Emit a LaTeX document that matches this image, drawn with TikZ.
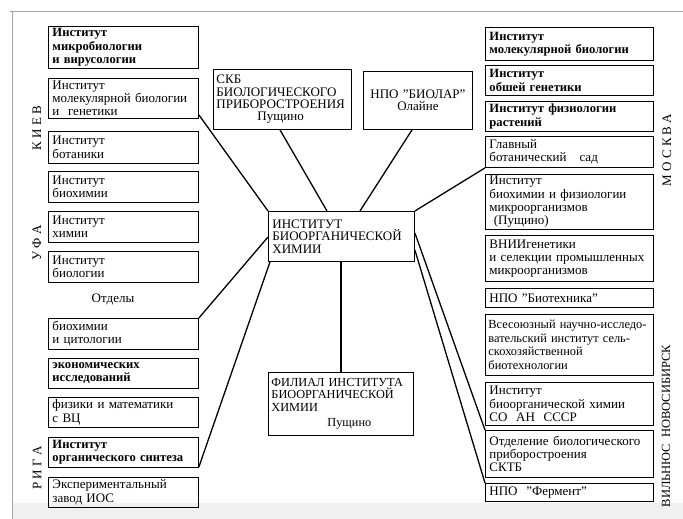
\documentclass[tikz,border=0pt]{standalone}
\usepackage{fontspec}
\setmainfont{Liberation Serif}
\newcommand\bxfont{\fontsize{13}{13.3}\selectfont}
\newcommand\capfont{\fontsize{13}{12.4}\selectfont}
\begin{document}
\begin{tikzpicture}[x=1pt,y=-1pt,
  box/.style={draw, line width=0.9pt, anchor=north west, inner xsep=4pt, inner ysep=0pt, font=\bxfont, align=left},
  lbox/.style={box, text width=142pt},
  rbox/.style={box, text width=160pt},
  mbox/.style={font=\fontsize{12.6}{13.3}\selectfont\bfseries},
  cbox/.style={box, font=\capfont},
  link/.style={line width=1.3pt},
  side/.style={rotate=90, font=\fontsize{13}{13}\selectfont}]
\useasboundingbox (0,0) rectangle (683,519);
\fill[gray!12] (12,503) rectangle (683,519);
\draw[gray!70, line width=1pt] (10,12) -- (683,12);
\draw[gray!70, line width=1pt] (12,12) -- (12,519);
% left column
\node[lbox, mbox, minimum height=42pt] (L1) at (48,26) {Институт\\микробиологии\\и вирусологии};
\node[lbox, minimum height=40pt] (L2) at (48,78) {Институт\\молекулярной биологии\\и\ \ генетики};
\node[lbox, minimum height=32pt] (L3) at (48,131) {Институт\\ботаники};
\node[lbox, minimum height=31pt] (L4) at (48,171) {Институт\\биохимии};
\node[lbox, minimum height=31pt] (L5) at (48,211) {Институт\\химии};
\node[lbox, minimum height=31pt] (L6) at (48,251) {Институт\\биологии};
\node[font=\bxfont] (otd) at (113,299) {Отделы};
\node[lbox, minimum height=31pt] (L7) at (48,318) {биохимии\\и цитологии};
\node[lbox, mbox, minimum height=30pt] (L8) at (48,358) {экономических\\исследований};
\node[lbox, minimum height=30pt] (L9) at (48,397) {физики и математики\\с ВЦ};
\node[lbox, mbox, minimum height=30pt] (L10) at (48,437) {Институт\\органического синтеза};
\node[lbox, minimum height=30pt] (L11) at (48,477) {Экспериментальный\\завод ИОС};
% right column
\node[rbox, mbox, minimum height=33pt] (R1) at (485,27) {Институт\\молекулярной биологии};
\node[rbox, mbox, minimum height=30pt] (R2) at (485,65) {Институт\\обшей генетики};
\node[rbox, mbox, minimum height=30pt] (R3) at (485,101) {Институт физиологии\\растений};
\node[rbox, minimum height=31pt] (R4) at (485,136) {Главный\\ботанический\ \ \ сад};
\node[rbox, minimum height=55pt] (R5) at (485,174) {Институт\\биохимии и физиологии\\микроорганизмов\\\ (Пущино)};
\node[rbox, minimum height=46pt] (R6) at (485,235) {ВНИИгенетики\\и селекции промышленных\\микроорганизмов};
\node[rbox, minimum height=19pt] (R7) at (485,288) {НПО ''Биотехника''};
\node[rbox, text width=162pt, inner xsep=3pt, font=\fontsize{12.4}{13.6}\selectfont, minimum height=61pt] (R8) at (485,314) {Всесоюзный научно-исследо-\\вательский институт сель-\\скохозяйственной\\биотехнологии};
\node[rbox, minimum height=43pt] (R9) at (485,382) {Институт\\биоорганической химии\\СО\ \ АН\ \ СССР};
\node[rbox, minimum height=47pt] (R10) at (485,430) {Отделение биологического\\приборостроения\\СКТБ};
\node[rbox, minimum height=18pt] (R11) at (485,483) {НПО\ \ ''Фермент''};
% centre
\node[cbox, text width=132pt, inner xsep=3pt, minimum height=60pt] (SKB) at (213,69) {СКБ\\БИОЛОГИЧЕСКОГО\\ПРИБОРОСТРОЕНИЯ\\\hspace*{41pt}Пущино};
\node[cbox, text width=103pt, inner xsep=3pt, minimum height=58pt, align=center] (BIO) at (363,71) {НПО ''БИОЛАР''\\Олайне\\[4pt]};
\node[cbox, text width=138pt, minimum height=50pt] (C) at (268,211) {ИНСТИТУТ\\БИООРГАНИЧЕСКОЙ\\ХИМИИ};
\node[cbox, text width=139pt, inner xsep=3pt, font=\fontsize{12.3}{12.4}\selectfont, minimum height=63pt] (F) at (268,372) {ФИЛИАЛ ИНСТИТУТА\\БИООРГАНИЧЕСКОЙ\\ХИМИИ\\[3pt]\hspace*{56pt}Пущино};
% side labels
\node[side] (kiev) at (37,128) {К И Е В};
\node[side] (ufa) at (37,243) {У Ф А};
\node[side] (riga) at (37,468) {Р И Г А};
\node[side] (msk) at (667,150) {М О С К В А};
\node[side, font=\fontsize{12.5}{13}\selectfont] (vn) at (666,426) {ВИЛЬНЮС\ \ НОВОСИБИРСК};
% connectors
\draw[link] ([yshift=4pt]L2.south east) -- (C.north west);
\draw[link] ([xshift=67pt]SKB.south west) -- ([xshift=59pt]C.north west);
\draw[link] ([xshift=49pt]BIO.south west) -- ([xshift=92pt]C.north west);
\draw[link] (R4.south west) -- (C.north east);
\draw[link] ([yshift=-26pt]C.north west) -- (L7.north east);
\draw[link] ([xshift=2pt]C.south west) -- ([yshift=1pt]L10.south east);
\draw[link] ([xshift=73pt]C.south west) -- ([xshift=73pt]F.north west);
\draw[link] ([yshift=-22pt]C.north east) -- (R10.north west);
\draw[link] ([yshift=-39pt]C.north east) -- (R11.north west);
\end{tikzpicture}
\end{document}
